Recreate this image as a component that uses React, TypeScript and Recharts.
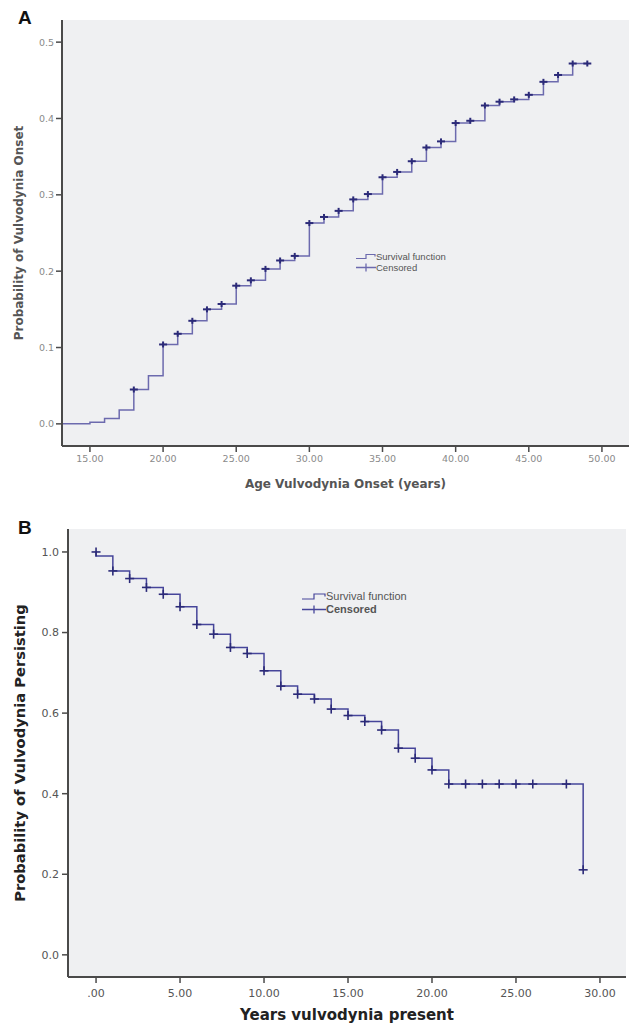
import React from 'react'
import { ComposedChart, Line, Scatter, XAxis, YAxis, CartesianGrid, Legend } from 'recharts'

// ===== Panel A : cumulative probability of onset, by age =====
const onsetAge = [0, 15, 16, 17, 18, 19, 20, 21, 22, 23, 24, 25, 26, 27, 28, 29, 30, 31, 32, 33, 34, 35, 36, 37, 38, 39, 40, 41, 42, 43, 44, 45, 46, 47, 48, 49]
const onsetProb = [0, 0.002, 0.007, 0.018, 0.045, 0.063, 0.104, 0.118, 0.135, 0.15, 0.157, 0.181, 0.188, 0.203, 0.214, 0.22, 0.263, 0.271, 0.279, 0.294, 0.301, 0.323, 0.33, 0.344, 0.362, 0.37, 0.394, 0.397, 0.417, 0.422, 0.425, 0.431, 0.448, 0.457, 0.472, 0.472]
const onsetCensAge = [18, 20, 21, 22, 23, 24, 25, 26, 27, 28, 29, 30, 31, 32, 33, 34, 35, 36, 37, 38, 39, 40, 41, 42, 43, 44, 45, 46, 47, 48, 49]
const onsetCensProb = [0.045, 0.104, 0.118, 0.135, 0.15, 0.157, 0.181, 0.188, 0.203, 0.214, 0.22, 0.263, 0.271, 0.279, 0.294, 0.301, 0.323, 0.33, 0.344, 0.362, 0.37, 0.394, 0.397, 0.417, 0.422, 0.425, 0.431, 0.448, 0.457, 0.472, 0.472]
const onsetXTicks = [15, 20, 25, 30, 35, 40, 45, 50]
const onsetYTicks = [0, 0.1, 0.2, 0.3, 0.4, 0.5]

// ===== Panel B : probability of vulvodynia persisting, by years =====
const persistYears = [0, 0, 1, 2, 3, 4, 5, 6, 7, 8, 9, 10, 11, 12, 13, 14, 15, 16, 17, 18, 19, 20, 21, 29]
const persistProb = [1.0, 0.99, 0.953, 0.934, 0.912, 0.895, 0.864, 0.82, 0.796, 0.763, 0.748, 0.705, 0.667, 0.647, 0.635, 0.61, 0.594, 0.579, 0.558, 0.513, 0.488, 0.459, 0.424, 0.211]
const persistCensYears = [0, 1, 2, 3, 4, 5, 6, 7, 8, 9, 10, 11, 12, 13, 14, 15, 16, 17, 18, 19, 20, 21, 22, 23, 24, 25, 26, 28, 29]
const persistCensProb = [1.0, 0.953, 0.934, 0.912, 0.895, 0.864, 0.82, 0.796, 0.763, 0.748, 0.705, 0.667, 0.647, 0.635, 0.61, 0.594, 0.579, 0.558, 0.513, 0.488, 0.459, 0.424, 0.424, 0.424, 0.424, 0.424, 0.424, 0.424, 0.211]
const persistXTicks = [0, 5, 10, 15, 20, 25, 30]
const persistYTicks = [0, 0.2, 0.4, 0.6, 0.8, 1.0]

const zip = (xs: number[], ys: number[]) => xs.map((x, i) => ({ x, y: ys[i] }))

const BG = '#eff0f2'
const AXIS = '#4a4a4a'
const FRAME = '#9a9a9a'
const LINE_A = '#6c6aae'
const LINE_B = '#46459a'
const MARK = '#2b2a78'
const TICK_FONT = "'DejaVu Sans', Verdana, sans-serif"
const LEGEND_FONT = "'Liberation Sans', Arial, sans-serif"

// "+" marker for censored cases
function plusShape(w: number, h: number, sw: number) {
  return (props: any) => {
    const { cx, cy } = props
    return (
      <g>
        <line x1={cx - w} x2={cx + w} y1={cy} y2={cy} stroke={MARK} strokeWidth={sw} />
        <line x1={cx} x2={cx} y1={cy - h} y2={cy + h} stroke={MARK} strokeWidth={sw} />
      </g>
    )
  }
}

// SPSS-like legend: step icon + cross icon (survival function listed first)
function legendContent(fontSize: number, rowH: number, iconW: number, stepH: number, lineColor: string, boldCensored: boolean) {
  return (props: any) => {
    const items = [...(props.payload || [])].sort((a: any, b: any) => (a.type === 'cross' ? 1 : 0) - (b.type === 'cross' ? 1 : 0))
    return (
      <div style={{ fontFamily: LEGEND_FONT, fontSize, color: '#555', lineHeight: `${rowH}px` }}>
        {items.map((entry: any) => {
          const mid = rowH / 2
          const cross = entry.type === 'cross'
          return (
            <div key={entry.value} style={{ display: 'flex', alignItems: 'center', height: rowH }}>
              <svg width={iconW} height={rowH} style={{ display: 'block' }}>
                {cross ? (
                  <path d={`M0,${mid} H${iconW} M${iconW / 2},${mid - 4} V${mid + 4}`} stroke={lineColor} strokeWidth={1.3} fill="none" />
                ) : (
                  <path d={`M0,${mid + stepH / 2} H${iconW / 2} V${mid - stepH / 2} H${iconW - 1} V${mid}`} stroke={lineColor} strokeWidth={1.2} fill="none" />
                )}
              </svg>
              <span style={{ fontWeight: cross && boldCensored ? 'bold' : 'normal' }}>{entry.value}</span>
            </div>
          )
        })}
      </div>
    )
  }
}

const panelLetter: React.CSSProperties = {
  position: 'absolute',
  left: 18,
  fontFamily: LEGEND_FONT,
  fontWeight: 'bold',
  fontSize: 19,
  lineHeight: '19px',
  color: '#111',
}

function OnsetChart() {
  const domainX: [number, number] = [13.09, 51.85]
  return (
    <ComposedChart width={629} height={500} margin={{ top: 20, right: 0, bottom: 0, left: 0 }}>
      <CartesianGrid horizontal={false} vertical={false} fill={BG} />
      <XAxis xAxisId="top" orientation="top" type="number" domain={domainX} height={0} tick={false} tickLine={false} axisLine={{ stroke: FRAME, strokeWidth: 2 }} />
      <XAxis
        type="number"
        dataKey="x"
        domain={domainX}
        ticks={onsetXTicks}
        allowDataOverflow
        height={54}
        tickSize={6}
        tickMargin={3}
        tickFormatter={(v: number) => v.toFixed(2)}
        axisLine={{ stroke: AXIS, strokeWidth: 2 }}
        tickLine={{ stroke: AXIS, strokeWidth: 1.5 }}
        tick={{ fill: '#8a8a8a', fontSize: 9.5, fontFamily: TICK_FONT }}
        label={{ value: 'Age Vulvodynia Onset (years)', position: 'insideBottom', offset: 12, style: { fill: '#555', fontSize: 12, fontWeight: 'bold', fontFamily: TICK_FONT } }}
      />
      <YAxis
        type="number"
        domain={[-0.029, 0.529]}
        ticks={onsetYTicks}
        width={62}
        tickSize={6}
        tickMargin={2}
        tickFormatter={(v: number) => v.toFixed(1)}
        axisLine={{ stroke: AXIS, strokeWidth: 2 }}
        tickLine={{ stroke: AXIS, strokeWidth: 1.5 }}
        tick={{ fill: '#8a8a8a', fontSize: 9.5, fontFamily: TICK_FONT }}
        label={{ value: 'Probability of Vulvodynia Onset', angle: -90, position: 'insideLeft', offset: 19, style: { textAnchor: 'middle', fill: '#555', fontSize: 12, fontWeight: 'bold', fontFamily: TICK_FONT } }}
      />
      <Line data={zip(onsetAge, onsetProb)} dataKey="y" type="stepAfter" stroke={LINE_A} strokeWidth={1.5} dot={false} activeDot={false} isAnimationActive={false} name="Survival function" legendType="line" />
      <Scatter data={zip(onsetCensAge, onsetCensProb)} dataKey="y" shape={plusShape(4, 3, 2)} isAnimationActive={false} name="Censored" legendType="cross" />
      <Legend
        layout="vertical"
        align="center"
        verticalAlign="middle"
        wrapperStyle={{ left: 356, top: 251, width: 'auto' }}
        content={legendContent(9.5, 11, 20, 4, LINE_A, false)}
      />
    </ComposedChart>
  )
}

function PersistChart() {
  const domainX: [number, number] = [-1.67, 31.55]
  const domainY: [number, number] = [-0.055, 1.057]
  return (
    <ComposedChart width={629} height={526} margin={{ top: 29, right: 3, bottom: 0, left: 0 }}>
      <CartesianGrid horizontal={false} vertical={false} fill={BG} />
      <XAxis xAxisId="top" orientation="top" type="number" domain={domainX} height={0} tick={false} tickLine={false} axisLine={{ stroke: FRAME, strokeWidth: 1.5 }} />
      <YAxis yAxisId="right" orientation="right" type="number" domain={domainY} width={0} tick={false} tickLine={false} axisLine={{ stroke: FRAME, strokeWidth: 1.5 }} />
      <XAxis
        type="number"
        dataKey="x"
        domain={domainX}
        ticks={persistXTicks}
        height={49}
        tickSize={6}
        tickMargin={6}
        tickFormatter={(v: number) => (v === 0 ? '.00' : v.toFixed(2))}
        axisLine={{ stroke: AXIS, strokeWidth: 2 }}
        tickLine={{ stroke: AXIS, strokeWidth: 1.5 }}
        tick={{ fill: '#555', fontSize: 11, fontFamily: TICK_FONT }}
        label={{ value: 'Years vulvodynia present', position: 'insideBottom', offset: 6, style: { fill: '#222', fontSize: 15, fontWeight: 'bold', fontFamily: TICK_FONT } }}
      />
      <YAxis
        type="number"
        domain={domainY}
        ticks={persistYTicks}
        width={68}
        tickSize={6}
        tickMargin={3}
        tickFormatter={(v: number) => v.toFixed(1)}
        axisLine={{ stroke: AXIS, strokeWidth: 2 }}
        tickLine={{ stroke: AXIS, strokeWidth: 1.5 }}
        tick={{ fill: '#555', fontSize: 11, fontFamily: TICK_FONT }}
        label={{ value: 'Probability of Vulvodynia Persisting', angle: -90, position: 'insideLeft', offset: 20, style: { textAnchor: 'middle', fill: '#222', fontSize: 14.7, fontWeight: 'bold', fontFamily: TICK_FONT } }}
      />
      <Line data={zip(persistYears, persistProb)} dataKey="y" type="stepAfter" stroke={LINE_B} strokeWidth={1.5} dot={false} activeDot={false} isAnimationActive={false} name="Survival function" legendType="line" />
      <Scatter data={zip(persistCensYears, persistCensProb)} dataKey="y" shape={plusShape(4.5, 4.5, 1.6)} isAnimationActive={false} name="Censored" legendType="cross" />
      <Legend
        layout="vertical"
        align="center"
        verticalAlign="middle"
        wrapperStyle={{ left: 302, top: 90, width: 'auto' }}
        content={legendContent(11, 13, 24, 5, LINE_B, true)}
      />
    </ComposedChart>
  )
}

export default function App() {
  return (
    <div style={{ position: 'absolute', left: 0, top: 0, width: 629, height: 1026, background: '#fff', overflow: 'hidden' }}>
      <div style={{ ...panelLetter, top: 8 }}>A</div>
      <div style={{ position: 'absolute', left: 0, top: 0 }}>
        <OnsetChart />
      </div>
      <div style={{ ...panelLetter, top: 518 }}>B</div>
      <div style={{ position: 'absolute', left: 0, top: 500 }}>
        <PersistChart />
      </div>
    </div>
  )
}
